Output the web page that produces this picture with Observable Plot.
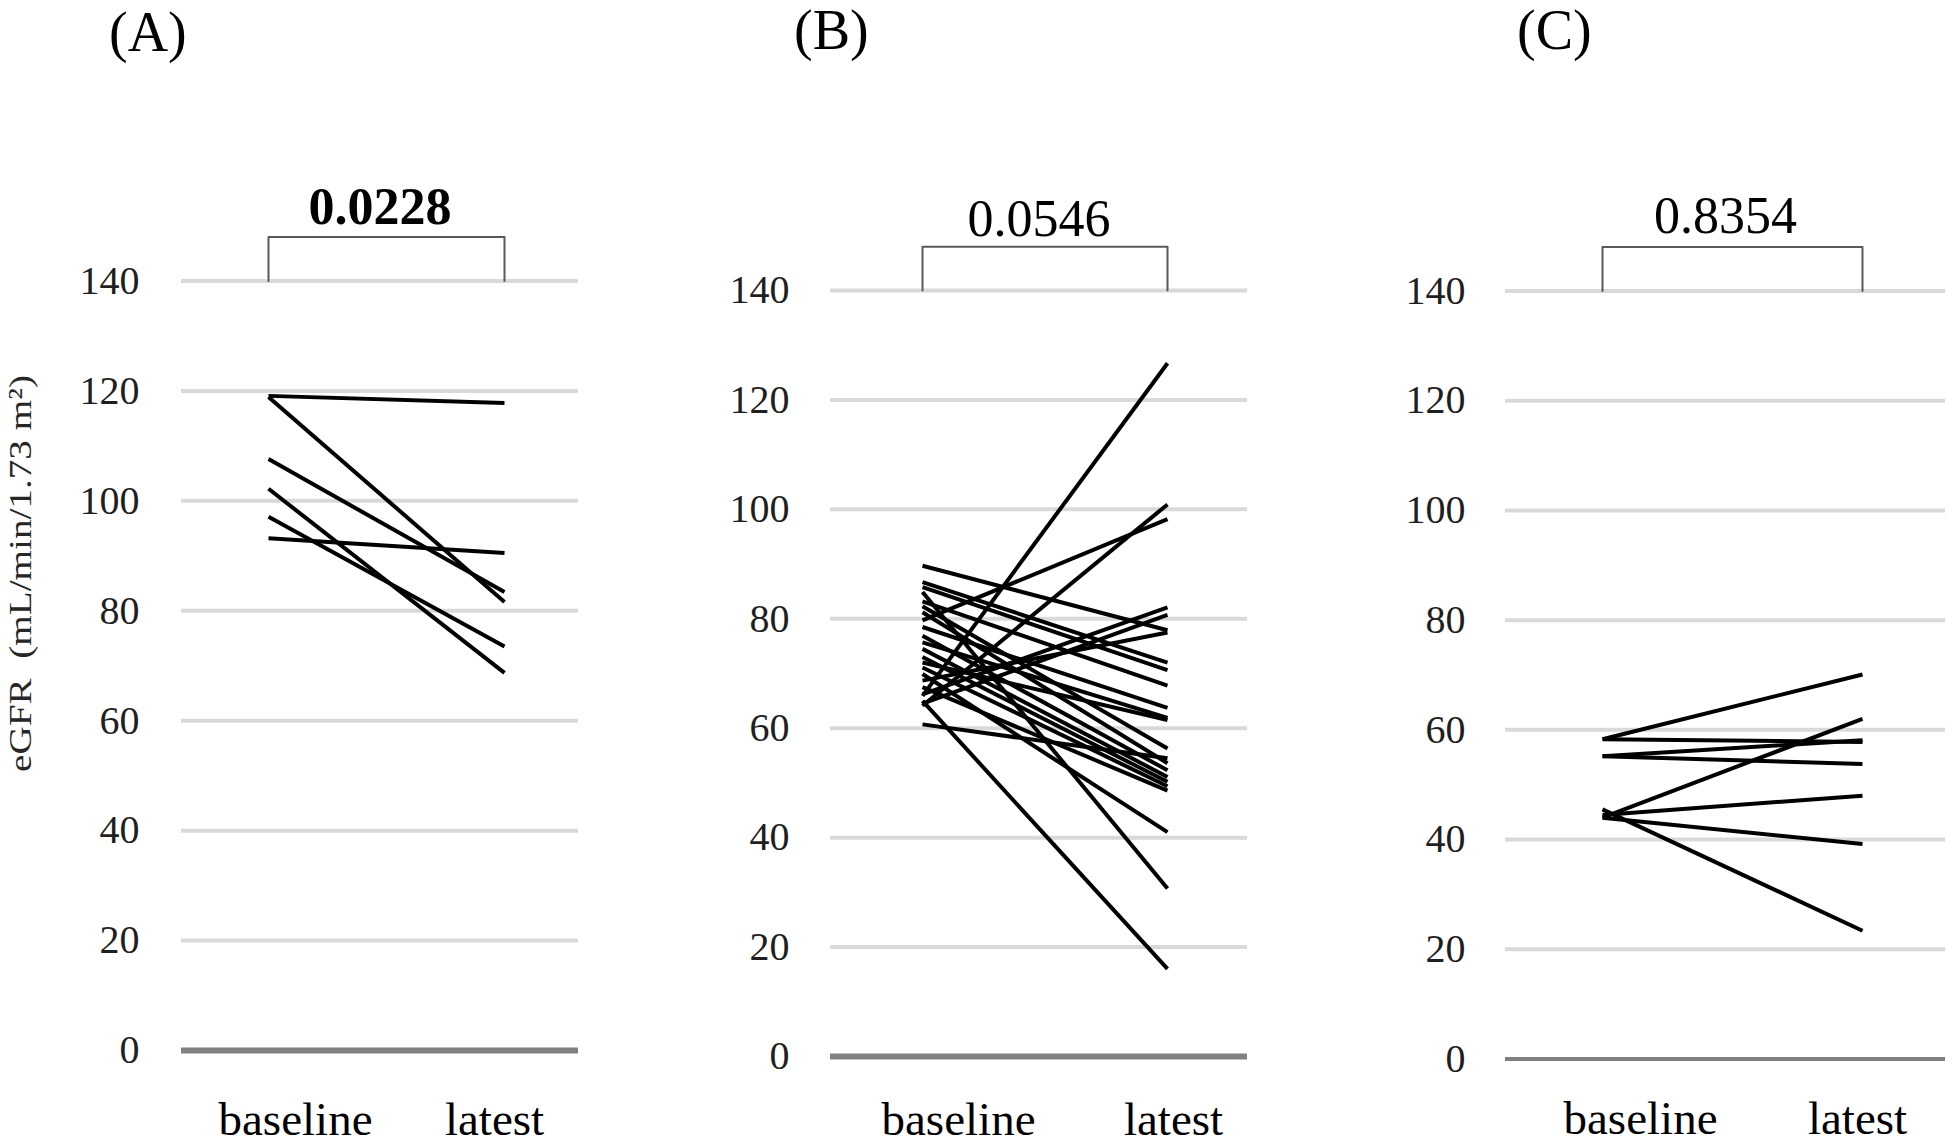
<!DOCTYPE html>
<html><head><meta charset="utf-8">
<script src="https://cdn.jsdelivr.net/npm/d3@7"></script>
<script src="https://cdn.jsdelivr.net/npm/@observablehq/plot@0.6"></script>
<style>
html,body{margin:0;padding:0;background:#fff;}
#wrap{position:relative;width:1946px;height:1143px;overflow:hidden;font-family:"Liberation Serif",serif;}
.panel{position:absolute;top:0;}
.tag{position:absolute;font-size:56px;color:#000;line-height:1.1;font-family:"Liberation Serif",serif;}
</style></head><body><div id="wrap"></div>
<script>
// ---- data ----
const categories = ["baseline", "latest"];
const yTicks = [0, 20, 40, 60, 80, 100, 120, 140];
const panelTags = ["(A)", "(B)", "(C)"];
const pValues = ["0.0228", "0.0546", "0.8354"];
const yTitle = "eGFR  (mL/min/1.73 m²)";

const A_baseline = [119.1, 118.9, 107.6, 102.2, 97.1, 93.2];
const A_latest   = [117.8, 81.6, 83.4, 68.7, 73.5, 90.5];

const B_baseline = [65.9, 64.1, 79.7, 66.2, 64.5, 89.7, 68.7, 86.7, 85.8, 83.2, 78.5, 75.7, 72.0, 60.7, 84.9, 65.0, 69.9, 82.3, 81.2, 76.9, 74.5, 73.0, 71.1, 67.5];
const B_latest   = [126.7, 100.9, 98.2, 82.1, 80.7, 77.9, 77.5, 72.0, 70.6, 67.8, 63.7, 61.9, 61.5, 54.5, 30.7, 16.0, 41.0, 56.3, 53.6, 52.3, 51.1, 50.2, 49.4, 48.6];

const C_baseline = [58.3, 58.3, 55.2, 55.2, 44.0, 44.5, 44.0, 45.5];
const C_latest   = [70.1, 57.8, 58.1, 53.8, 62.0, 48.0, 39.2, 23.4];

// ---- layout ----
const H = 1143;
const panels = [
  {tag: panelTags[0], p: pValues[0], bold: true, base: A_baseline, late: A_latest,
   left: 0, width: 640, mL: 181, mR: 62, mT: 280.5, mB: 93, xRange: [268, 504],
   pad: 42, pDy: -57, labDx: [27, -10], labDy: 84, zeroW: 6, tagX: 109, tagY: 2, title: true},
  {tag: panelTags[1], p: pValues[1], bold: false, base: B_baseline, late: B_latest,
   left: 640, width: 660, mL: 190, mR: 53, mT: 290, mB: 87, xRange: [281.7, 527],
   pad: 41, pDy: -55, labDx: [36, 6], labDy: 78, zeroW: 6, tagX: 794, tagY: 0, title: false},
  {tag: panelTags[2], p: pValues[2], bold: false, base: C_baseline, late: C_latest,
   left: 1300, width: 646, mL: 205, mR: 1, mT: 290.4, mB: 84.4, xRange: [302, 562],
   pad: 40, pDy: -58, labDx: [38, -5], labDy: 75, zeroW: 4, tagX: 1517, tagY: 0, title: false}
];

const wrap = document.getElementById("wrap");
const bracketTop = 148;

for (const P of panels) {
  const pairs = P.base.map((b, i) => ({b, l: P.late[i]}));
  const bracket = [
    {x: categories[0], y: 140}, {x: categories[0], y: bracketTop},
    {x: categories[1], y: bracketTop}, {x: categories[1], y: 140}
  ];
  const marks = [
    Plot.ruleY(yTicks.filter(d => d > 0), {stroke: "#d9d9d9", strokeWidth: 4}),
    Plot.ruleY([0], {stroke: "#808080", strokeWidth: P.zeroW}),
    Plot.axisY(yTicks, {tickSize: 0, tickPadding: P.pad, fontSize: 40, fill: "#1f1f1f", label: null}),
    Plot.line(bracket, {x: "x", y: "y", stroke: "#595959", strokeWidth: 2}),
    Plot.text([P.p], {text: d => d, frameAnchor: "top", lineAnchor: "bottom", dy: P.pDy,
      fontSize: 52, fontWeight: P.bold ? "bold" : "normal", fill: "#000"}),
    Plot.link(pairs, {x1: () => categories[0], x2: () => categories[1], y1: "b", y2: "l",
      stroke: "#000", strokeWidth: 4}),
    ...categories.map((c, i) => Plot.text([c], {x: d => d, text: d => d, frameAnchor: "bottom",
      lineAnchor: "bottom", dy: P.labDy, dx: P.labDx[i], fontSize: 47, fill: "#000"}))
  ];
  if (P.title) {
    marks.push(Plot.text([yTitle], {text: d => d, frameAnchor: "left", textAnchor: "middle",
      lineAnchor: "middle", rotate: -90, dx: 20 - P.mL, dy: 573 - (P.mT + (H - P.mB)) / 2,
      fontSize: 32, fill: "#262626"}));
  }
  const chart = Plot.plot({
    width: P.width, height: H,
    marginLeft: P.mL, marginRight: P.mR, marginTop: P.mT, marginBottom: P.mB,
    x: {type: "point", domain: categories, range: P.xRange, padding: 0, axis: null},
    y: {domain: [0, 140], axis: null},
    style: {fontFamily: "Liberation Serif, serif", background: "transparent", overflow: "visible"},
    marks
  });
  chart.classList.add("panel");
  chart.style.left = P.left + "px";
  wrap.appendChild(chart);
  if (P.title) {
    d3.select(chart).selectAll("text").filter(function() { return this.textContent === yTitle; })
      .attr("textLength", 397).attr("lengthAdjust", "spacingAndGlyphs");
  }
  const t = document.createElement("div");
  t.className = "tag";
  t.textContent = P.tag;
  t.style.left = P.tagX + "px";
  t.style.top = P.tagY + "px";
  wrap.appendChild(t);
}
</script>
</body></html>
